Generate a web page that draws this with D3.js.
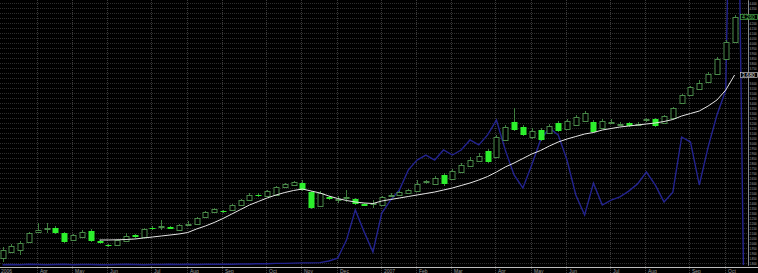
<!DOCTYPE html>
<html>
<head>
<meta charset="utf-8">
<script src="https://cdn.jsdelivr.net/npm/d3@7"></script>
<style>
  html, body { margin: 0; padding: 0; background: #000; overflow: hidden; }
  svg { display: block; }
  text { font-family: "Liberation Sans", Arial, sans-serif; }
</style>
</head>
<body>
<svg id="chart" width="758" height="273"></svg>
<script>
// Weekly candles (price units).
var opens = [1.85, 1.91, 1.93, 2.01, 2.11, 2.142, 2.15, 2.10, 2.03, 2.06,
  2.12, 2.02, 1.98, 1.98, 2.02, 2.08, 2.06, 2.155, 2.157, 2.16,
  2.13, 2.187, 2.19, 2.26, 2.31, 2.32, 2.33, 2.38, 2.43, 2.485,
  2.47, 2.48, 2.56, 2.58, 2.60, 2.51, 2.37, 2.46, 2.427, 2.447,
  2.44, 2.39, 2.387, 2.38, 2.477, 2.48, 2.50, 2.52, 2.607, 2.59,
  2.68, 2.64, 2.71, 2.77, 2.82, 2.92, 2.86, 3.03, 3.21, 3.16,
  3.06, 3.13, 3.10, 3.20, 3.14, 3.18, 3.22, 3.21, 3.15, 3.207,
  3.187, 3.20, 3.187, 3.227, 3.24, 3.20, 3.25, 3.40, 3.48, 3.54,
  3.61, 3.69, 3.84, 4.01];
var highs = [1.96, 1.99, 2.02, 2.11, 2.20, 2.20, 2.17, 2.11, 2.09, 2.13,
  2.14, 2.03, 1.99, 2.04, 2.10, 2.09, 2.15, 2.17, 2.23, 2.17,
  2.19, 2.22, 2.26, 2.32, 2.35, 2.33, 2.39, 2.44, 2.50, 2.50,
  2.53, 2.57, 2.60, 2.62, 2.63, 2.52, 2.52, 2.47, 2.47, 2.53,
  2.45, 2.40, 2.43, 2.47, 2.50, 2.52, 2.54, 2.63, 2.63, 2.67,
  2.70, 2.74, 2.80, 2.86, 2.90, 2.94, 3.08, 3.18, 3.35, 3.18,
  3.15, 3.15, 3.19, 3.22, 3.24, 3.28, 3.32, 3.23, 3.24, 3.24,
  3.21, 3.21, 3.21, 3.25, 3.25, 3.28, 3.36, 3.49, 3.57, 3.63,
  3.71, 3.86, 4.03, 4.28];
var lows = [1.81, 1.90, 1.88, 2.00, 2.10, 2.10, 2.09, 2.00, 2.02, 2.05,
  2.01, 1.99, 1.96, 1.97, 2.01, 2.05, 2.05, 2.13, 2.13, 2.14,
  2.12, 2.17, 2.18, 2.25, 2.30, 2.30, 2.32, 2.37, 2.42, 2.46,
  2.46, 2.47, 2.55, 2.57, 2.52, 2.34, 2.36, 2.43, 2.40, 2.41,
  2.38, 2.37, 2.35, 2.37, 2.46, 2.47, 2.49, 2.51, 2.59, 2.58,
  2.57, 2.63, 2.70, 2.76, 2.81, 2.80, 2.85, 3.02, 3.12, 3.07,
  3.04, 3.02, 3.09, 3.11, 3.13, 3.17, 3.21, 3.10, 3.14, 3.19,
  3.17, 3.16, 3.17, 3.21, 3.16, 3.19, 3.24, 3.39, 3.47, 3.53,
  3.60, 3.68, 3.83, 4.00];
var closes = [1.93, 1.97, 2.00, 2.10, 2.13, 2.15, 2.10, 2.01, 2.08, 2.11,
  2.02, 2.00, 1.965, 2.03, 2.07, 2.06, 2.14, 2.145, 2.165, 2.145,
  2.18, 2.195, 2.25, 2.31, 2.34, 2.305, 2.38, 2.43, 2.48, 2.47,
  2.52, 2.56, 2.59, 2.61, 2.53, 2.35, 2.50, 2.44, 2.435, 2.455,
  2.39, 2.375, 2.395, 2.46, 2.485, 2.51, 2.53, 2.59, 2.615, 2.65,
  2.59, 2.72, 2.78, 2.83, 2.87, 2.81, 3.06, 3.16, 3.13, 3.08,
  3.12, 3.03, 3.17, 3.12, 3.22, 3.26, 3.30, 3.11, 3.22, 3.215,
  3.195, 3.17, 3.195, 3.235, 3.17, 3.27, 3.35, 3.48, 3.56, 3.60,
  3.69, 3.84, 4.01, 4.26];

// Moving average (white line), starts at week 11.
var maValues = [null, null, null, null, null, null, null, null, null, null,
  null, 2.03, 2.03, 2.032, 2.035, 2.04, 2.05, 2.06, 2.07, 2.08,
  2.09, 2.105, 2.14, 2.17, 2.205, 2.245, 2.29, 2.335, 2.38, 2.415,
  2.45, 2.48, 2.505, 2.525, 2.54, 2.52, 2.50, 2.47, 2.445, 2.425,
  2.41, 2.40, 2.395, 2.42, 2.435, 2.45, 2.465, 2.48, 2.495, 2.51,
  2.53, 2.55, 2.575, 2.60, 2.63, 2.665, 2.71, 2.76, 2.80, 2.845,
  2.89, 2.925, 2.97, 3.01, 3.04, 3.065, 3.09, 3.105, 3.13, 3.145,
  3.16, 3.17, 3.18, 3.19, 3.20, 3.215, 3.235, 3.27, 3.295, 3.32,
  3.37, 3.43, 3.53, 3.68];

// Blue indicator, own 0-100 scale (runs one week past the last candle).
var indicator = [0.1, 0.2, 0.1, 0.3, 0.2, 0.1, 0.2, 0.3, 0.1, 0.2,
  0.2, 0.1, 0.1, 0.2, 0.3, 0.2, 0.1, 0.2, 0.2, 0.3,
  0.2, 0.3, 0.2, 0.3, 0.3, 0.3, 0.3, 0.4, 0.4, 0.5,
  0.5, 0.6, 0.6, 0.7, 0.8, 0.8, 0.9, 1.5, 2.6, 9.4,
  20.8, 12.5, 4.9, 19.6, 24.5, 28.3, 35.8, 39.6, 41.5, 39.6,
  43.4, 41.5, 43.4, 47.2, 45.3, 49.1, 54.7, 43.4, 34, 29.1,
  37.7, 47.2, 51.7, 49.1, 39.6, 26.4, 18.9, 30.9, 22.6, 24.5,
  25.7, 27.9, 30.6, 35.1, 30.2, 23.8, 27.5, 48.3, 46.4, 30.2,
  44.5, 56.6, 66, 251, 0];

// Month boundaries (week index) and their labels.
var monthWeeks = [0, 4, 8, 12, 17, 21, 25, 30, 34, 38, 43, 47, 51, 56, 60, 64, 69, 73, 78, 82];
var monthLabels = ["2006", "Apr", "May", "Jun", "Jul", "Aug", "Sep", "Oct", "Nov", "Dec",
  "2007", "Feb", "Mar", "Apr", "May", "Jun", "Jul", "Aug", "Sep", "Oct"];

var priceMin = 1.78, priceMax = 4.43, priceStep = 0.05;

var svg = d3.select("#chart");
var plotRight = 748, plotBottom = 265;

var x = d3.scaleLinear().domain([0, 84]).range([2.5, 743.4]);
var y = d3.scaleLinear().domain([priceMin, priceMax]).range([plotBottom, 0]);
var yInd = d3.scaleLinear().domain([0, 100]).range([plotBottom, 0]);

svg.append("defs").append("clipPath").attr("id", "plotClip")
  .append("rect").attr("x", 0).attr("y", 0).attr("width", plotRight).attr("height", plotBottom + 1);

// Horizontal grid, one line per price tick.
var priceTicks = d3.range(1.80, 4.401, priceStep);
svg.append("g").selectAll("line").data(priceTicks).enter().append("line")
  .attr("x1", 0).attr("x2", plotRight)
  .attr("y1", function(d) { return Math.round(y(d)) + 0.5; })
  .attr("y2", function(d) { return Math.round(y(d)) + 0.5; })
  .attr("stroke", "#2e2e2e").attr("stroke-dasharray", "1,1");

// Vertical month lines.
svg.append("g").selectAll("line").data(monthWeeks.slice(1)).enter().append("line")
  .attr("x1", function(d) { return Math.round(x(d)) - 0.5; })
  .attr("x2", function(d) { return Math.round(x(d)) - 0.5; })
  .attr("y1", 0).attr("y2", 273)
  .attr("stroke", "#3c3c3c").attr("stroke-dasharray", "1,1");

var plot = svg.append("g").attr("clip-path", "url(#plotClip)");

// Blue indicator line.
plot.append("path").datum(indicator)
  .attr("fill", "none").attr("stroke", "#23238f").attr("stroke-width", 1.4)
  .attr("d", d3.line().x(function(d, i) { return x(i); }).y(function(d) { return yInd(d); }));

// Candles: wick then body.
var candles = plot.append("g").selectAll("g").data(d3.range(opens.length)).enter().append("g");
candles.append("line")
  .attr("x1", function(i) { return Math.round(x(i)) + 0.5; })
  .attr("x2", function(i) { return Math.round(x(i)) + 0.5; })
  .attr("y1", function(i) { return y(highs[i]); })
  .attr("y2", function(i) { return y(lows[i]); })
  .attr("stroke", "#3f7f3f");
candles.append("rect")
  .attr("x", function(i) { return closes[i] >= opens[i] ? Math.round(x(i)) - 2 : Math.round(x(i)) - 2.5; })
  .attr("y", function(i) { return Math.round(y(Math.max(opens[i], closes[i]))) + (closes[i] >= opens[i] ? 0.5 : 0); })
  .attr("width", function(i) { return closes[i] >= opens[i] ? 5 : 6; })
  .attr("height", function(i) { return Math.max(1, Math.round(Math.abs(y(opens[i]) - y(closes[i])))); })
  .attr("fill", function(i) { return closes[i] >= opens[i] ? "#000" : "#2cf02c"; })
  .attr("stroke", function(i) { return closes[i] >= opens[i] ? "#4a8a4a" : "none"; });

// Moving average.
plot.append("path").datum(maValues)
  .attr("fill", "none").attr("stroke", "#e6e6e6").attr("stroke-width", 1)
  .attr("d", d3.line().defined(function(d) { return d !== null; })
    .x(function(d, i) { return x(i); }).y(function(d) { return y(d); }));

// Bottom rule.
svg.append("line").attr("x1", 0).attr("x2", 758).attr("y1", 267.5).attr("y2", 267.5)
  .attr("stroke", "#bdbdbd");

// Month labels.
svg.append("g").selectAll("text").data(monthWeeks).enter().append("text")
  .attr("x", function(d) { return d === 0 ? 1 : Math.round(x(d)) + 2; })
  .attr("y", 272.5)
  .attr("font-size", "5px").attr("fill", "#9a9a9a")
  .text(function(d, i) { return monthLabels[i]; });

// Last close and last average tags.
var last = opens.length - 1;
var tags = [
  { v: closes[last], color: "#58c858" },
  { v: maValues[last], color: "#e0e0e0" }
];

// Right price axis; tiny labels squeezed into the strip, hidden under the tags.
var axis = svg.append("g").attr("transform", "translate(" + plotRight + ",0)")
  .call(d3.axisRight(y).tickValues(priceTicks).tickSize(1).tickPadding(0.5).tickFormat(d3.format(".3f")));
axis.select(".domain").attr("stroke", "#8a8a8a");
axis.selectAll(".tick line").attr("stroke", "#8a8a8a");
axis.selectAll("text")
  .attr("font-size", "3.3px").attr("fill", "#b0b0b0").attr("font-family", "Liberation Sans, Arial, sans-serif")
  .attr("textLength", 7).attr("lengthAdjust", "spacingAndGlyphs");
axis.selectAll(".tick").filter(function(d) {
  return tags.some(function(t) { return Math.abs(y(t.v) - y(d)) < 5; });
}).select("text").remove();

var tag = svg.append("g").selectAll("g").data(tags).enter().append("g");
tag.append("rect")
  .attr("x", 740.5).attr("y", function(d) { return Math.round(y(d.v)) - 2.5; })
  .attr("width", 17).attr("height", 5)
  .attr("fill", "#000").attr("stroke", function(d) { return d.color; }).attr("stroke-width", 0.6);
tag.append("text")
  .attr("x", 742).attr("y", function(d) { return Math.round(y(d.v)) + 1.8; })
  .attr("font-size", "4.5px").attr("fill", function(d) { return d.color; })
  .attr("textLength", 13).attr("lengthAdjust", "spacingAndGlyphs")
  .text(function(d) { return d.v.toFixed(3); });
</script>
</body>
</html>
